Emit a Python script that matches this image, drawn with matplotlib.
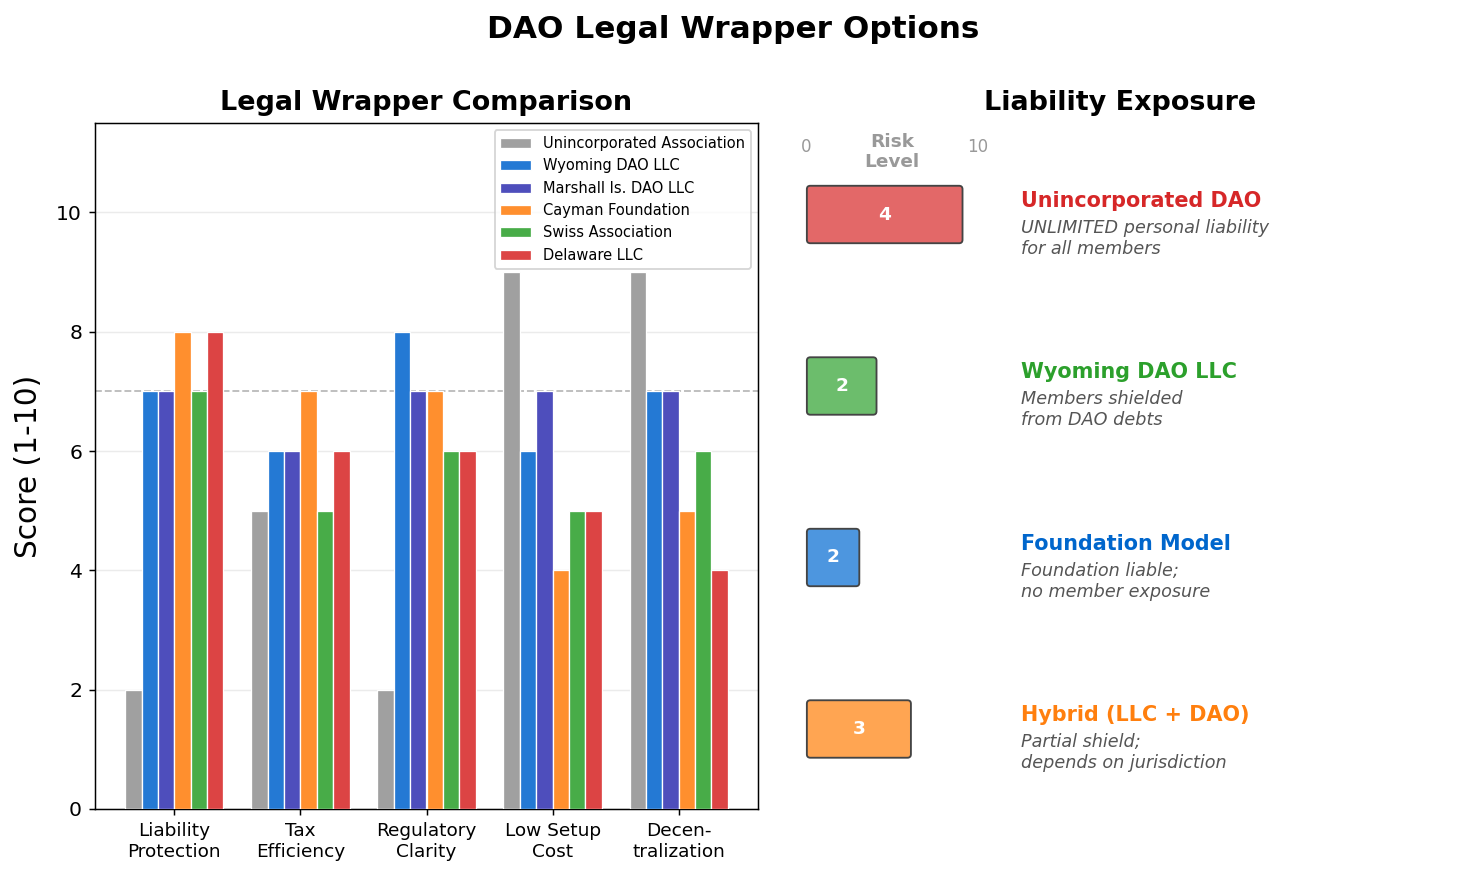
import matplotlib
matplotlib.use("Agg")
import matplotlib.pyplot as plt
import numpy as np
from matplotlib.patches import FancyBboxPatch

# ---- data ----
categories = ["Liability\nProtection", "Tax\nEfficiency", "Regulatory\nClarity",
              "Low Setup\nCost", "Decen-\ntralization"]
series_names = ["Unincorporated Association", "Wyoming DAO LLC", "Marshall Is. DAO LLC",
                "Cayman Foundation", "Swiss Association", "Delaware LLC"]
unincorporated = [2, 5, 2, 9, 9]
wyoming = [7, 6, 8, 6, 7]
marshall = [7, 6, 7, 7, 7]
cayman = [8, 7, 7, 4, 5]
swiss = [7, 5, 6, 5, 6]
delaware = [8, 6, 6, 5, 4]
series_values = [unincorporated, wyoming, marshall, cayman, swiss, delaware]
series_colors = ["#A0A0A0", "#2479D4", "#4E4EBC", "#FF8F2E", "#48AC48", "#DC4444"]
threshold = 7

risk_names = ["Unincorporated DAO", "Wyoming DAO LLC", "Foundation Model", "Hybrid (LLC + DAO)"]
risk_desc = ["UNLIMITED personal liability\nfor all members",
             "Members shielded\nfrom DAO debts",
             "Foundation liable;\nno member exposure",
             "Partial shield;\ndepends on jurisdiction"]
risk_values = [9, 4, 3, 6]
risk_labels = [4, 2, 2, 3]
risk_box_colors = ["#E36868", "#6CBD6C", "#4D96DF", "#FFA552"]
risk_text_colors = ["#D62728", "#2CA02C", "#0066CC", "#FF7F0E"]

# ---- figure ----
W, H = 1467, 878
DPI = W / 11.0
fig = plt.figure(figsize=(11.0, H / DPI), dpi=DPI)

def px_axes(x0, y0, x1, y1):
    return [x0 / W, 1 - y1 / H, (x1 - x0) / W, (y1 - y0) / H]

fig.suptitle("DAO Legal Wrapper Options", fontsize=16.8, fontweight="bold",
             y=1 - 30 / H, va="center")

# ---- left: grouped bars ----
ax = fig.add_axes(px_axes(95, 123, 758, 809))
n = len(series_values)
width = 0.13
x = np.arange(len(categories))
for i, (name, vals, col) in enumerate(zip(series_names, series_values, series_colors)):
    ax.bar(x + (i - (n - 1) / 2) * width, vals, width, label=name, color=col,
           edgecolor="white", linewidth=0.7, zorder=3)
ax.axhline(threshold, color="#BBBBBB", linestyle="--", linewidth=1.0, zorder=2)
ax.set_ylim(0, 11.5)
ax.set_xticks(x)
ax.set_xticklabels(categories, fontsize=10)
ax.set_yticks([0, 2, 4, 6, 8, 10])
ax.tick_params(axis="y", labelsize=11)
ax.set_ylabel("Score (1-10)", fontsize=16, labelpad=7)
ax.yaxis.grid(True, color="#EBEBEB", linewidth=0.8, zorder=0)
ax.set_axisbelow(True)
ax.set_title("Legal Wrapper Comparison", fontsize=14.6, fontweight="bold", pad=7)
ax.legend(loc="upper right", fontsize=7.9, labelspacing=0.5, handlelength=2.1)

# ---- right: liability exposure ----
ax2 = fig.add_axes(px_axes(790, 123, 1450, 809))
pxu = 17.2
unit_y = 171.5
ax2.set_xlim(-16 / pxu, (660 - 16) / pxu)
ax2.set_ylim(-(809 - 729) / unit_y, (729 - 123) / unit_y)
ax2.axis("off")
ax2.set_title("Liability Exposure", fontsize=14.6, fontweight="bold", pad=7)

ax2.text(0, 3.395, "0", ha="center", va="center", fontsize=9, color="#999999")
ax2.text(10, 3.395, "10", ha="center", va="center", fontsize=9, color="#999999")
ax2.text(5, 3.365, "Risk\nLevel", ha="center", va="center", fontsize=10,
         fontweight="bold", color="#999999", linespacing=1.15)

n_r = len(risk_names)
bh = 0.335
for i in range(n_r):
    yc = n_r - 1 - i
    box = FancyBboxPatch((0.05, yc - bh / 2), risk_values[i] + 0.05, bh,
                         boxstyle="round,pad=0.0,rounding_size=0.2",
                         facecolor=risk_box_colors[i], edgecolor="#444444", linewidth=1.0,
                         mutation_aspect=0.1)
    ax2.add_patch(box)
    ax2.text((risk_values[i] + 0.15) / 2, yc, str(risk_labels[i]), ha="center", va="center",
             fontsize=10, fontweight="bold", color="white")
    ax2.text(12.5, yc + 0.08, risk_names[i], ha="left", va="center", fontsize=11.2,
             fontweight="bold", color=risk_text_colors[i])
    ax2.text(12.5, yc - 0.138, risk_desc[i], ha="left", va="center", fontsize=9.5,
             style="italic", color="#555555")

fig.savefig("out.png", dpi=DPI)
